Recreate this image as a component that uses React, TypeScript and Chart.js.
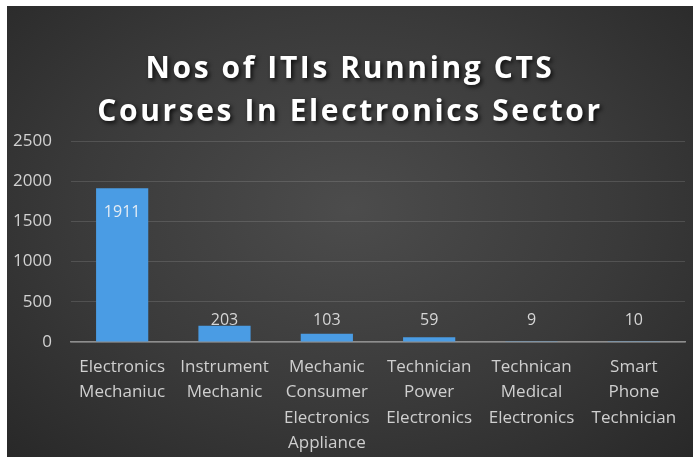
import React, { useEffect, useRef } from "react";
import { Chart, registerables } from "chart.js";

Chart.register(...registerables);

const categories: string[][] = [
  ["Electronics", "Mechaniuc"],
  ["Instrument", "Mechanic"],
  ["Mechanic", "Consumer", "Electronics", "Appliance"],
  ["Technician", "Power", "Electronics"],
  ["Technican", "Medical", "Electronics"],
  ["Smart", "Phone", "Technician"],
];
const values: number[] = [1911, 203, 103, 59, 9, 10];
const titleLines: string[] = ["Nos of ITIs Running CTS", "Courses In Electronics Sector"];
const yMax = 2500;
const yStep = 500;

const FONT = "'Open Sans', 'DejaVu Sans', sans-serif";

const titlePlugin = {
  id: "shadowTitle",
  afterDraw(chart: any) {
    const ctx = chart.ctx as CanvasRenderingContext2D;
    ctx.save();
    ctx.font = `bold 30px ${FONT}`;
    ctx.textAlign = "center";
    ctx.textBaseline = "alphabetic";
    (ctx as any).letterSpacing = "2.6px";
    ctx.shadowColor = "rgba(0,0,0,0.8)";
    ctx.shadowOffsetX = 2;
    ctx.shadowOffsetY = 2;
    ctx.shadowBlur = 4;
    ctx.fillStyle = "#ffffff";
    const cx = chart.width / 2;
    titleLines.forEach((t, i) => ctx.fillText(t, cx, 72 + i * 43));
    ctx.restore();
  },
};

const labelPlugin = {
  id: "valueLabels",
  afterDatasetsDraw(chart: any) {
    const ctx = chart.ctx as CanvasRenderingContext2D;
    const meta = chart.getDatasetMeta(0);
    const yScale = chart.scales.y;
    const zero = yScale.getPixelForValue(0);
    ctx.save();
    ctx.font = `16px ${FONT}`;
    ctx.textAlign = "center";
    ctx.textBaseline = "middle";
    meta.data.forEach((el: any, i: number) => {
      const v = values[i];
      if (v > 500) {
        ctx.fillStyle = "#e4ecf4";
        ctx.fillText(String(v), el.x, el.y + 24);
      } else {
        ctx.fillStyle = "#d6d6d6";
        ctx.fillText(String(v), el.x, zero - 22);
      }
    });
    ctx.restore();
  },
};

export default function App() {
  const ref = useRef<HTMLCanvasElement | null>(null);

  useEffect(() => {
    let chart: Chart | null = null;
    let cancelled = false;
    const make = () => {
      if (cancelled || !ref.current) return;
      chart = new Chart(ref.current, {
        type: "bar",
        data: {
          labels: categories,
          datasets: [
            {
              data: values,
              backgroundColor: "#4a9ce4",
              borderWidth: 0,
              barPercentage: 0.51,
              categoryPercentage: 1,
            },
          ],
        },
        options: {
          responsive: false,
          animation: false,
          layout: { padding: { top: 135, right: 8, left: 0, bottom: 0 } },
          plugins: {
            legend: { display: false },
            title: { display: false },
            tooltip: { enabled: false },
          },
          scales: {
            x: {
              grid: { display: false, drawTicks: false },
              border: { display: true, color: "#8e8e8e", width: 1.5 },
              ticks: {
                color: "#cfcfcf",
                font: { family: FONT, size: 17, lineHeight: 1.5 },
                padding: 12,
                maxRotation: 0,
                autoSkip: false,
              },
              afterFit: (s: any) => {
                s.height = 115;
              },
            },
            y: {
              min: 0,
              max: yMax,
              grid: { color: "rgba(255,255,255,0.13)", drawTicks: false, lineWidth: 1 },
              border: { display: false },
              ticks: {
                stepSize: yStep,
                color: "#d2d2d2",
                font: { family: FONT, size: 17 },
                padding: 19,
                callback: (v: any) => String(v),
              },
              afterFit: (s: any) => {
                s.width = 64;
              },
            },
          },
        },
        plugins: [titlePlugin, labelPlugin],
      });
    };
    if ((document as any).fonts && (document as any).fonts.load) {
      Promise.all([
        (document as any).fonts.load(`bold 30px 'Open Sans'`),
        (document as any).fonts.load(`17px 'Open Sans'`),
      ]).then(make, make);
    } else {
      make();
    }
    return () => {
      cancelled = true;
      if (chart) chart.destroy();
    };
  }, []);

  return (
    <div
      style={{
        position: "absolute",
        left: 7,
        top: 6,
        width: 686,
        height: 451,
        background:
          "radial-gradient(ellipse 72% 78% at 50% 45%, #4c4c4c 0%, #3a3a3a 55%, #282828 100%)",
      }}
    >
      <canvas ref={ref} width={686} height={451} style={{ display: "block" }} />
    </div>
  );
}
